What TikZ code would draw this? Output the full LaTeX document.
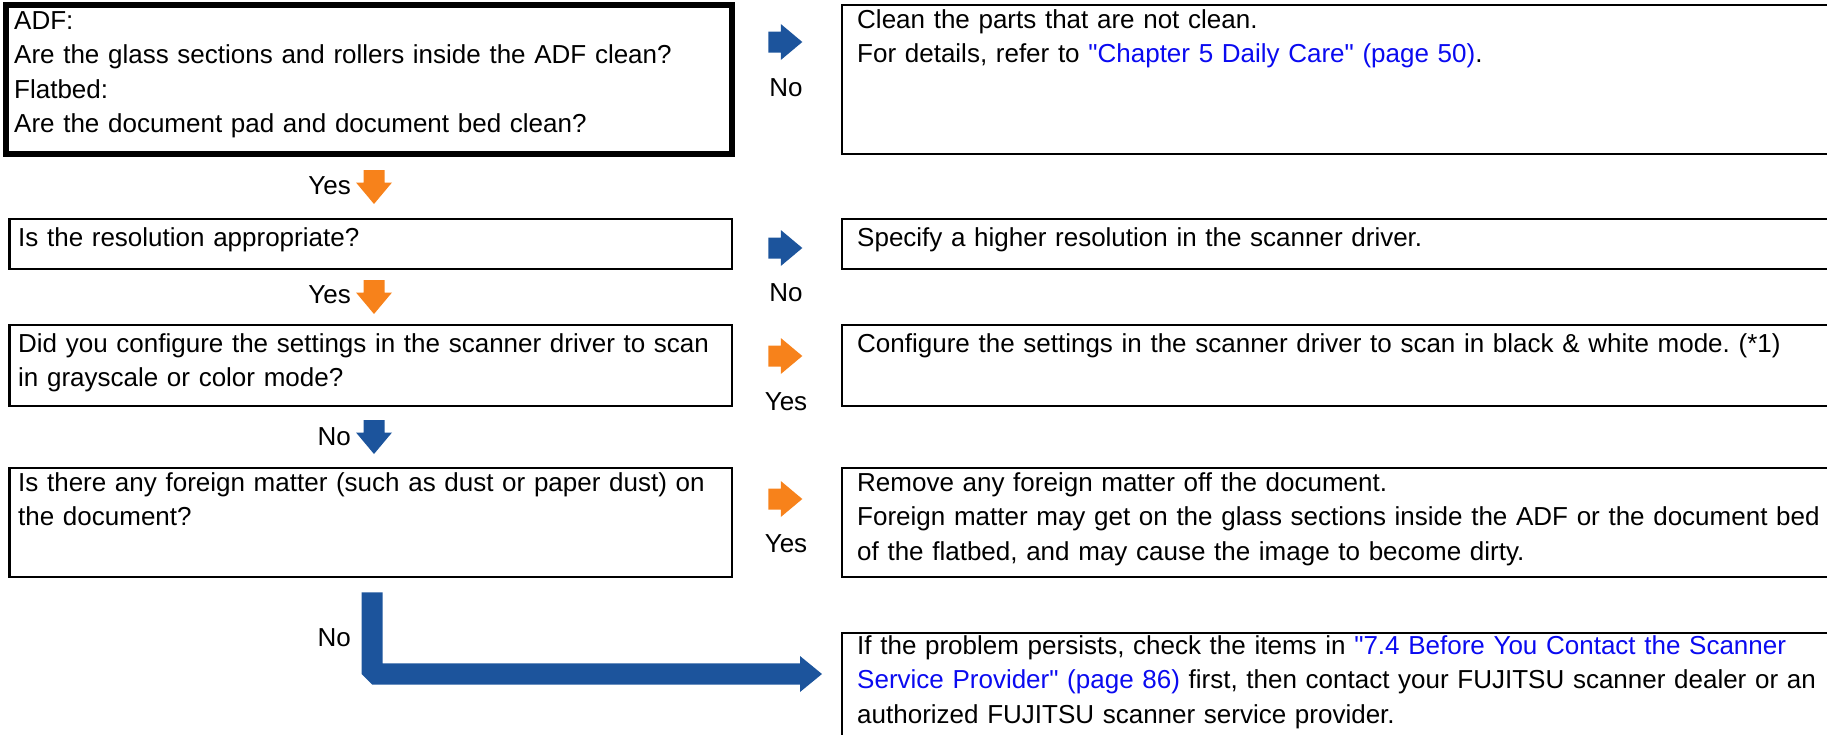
\documentclass[tikz,border=0pt]{standalone}
\usepackage{fontspec}
\setmainfont{Liberation Sans}
\usetikzlibrary{calc}
\definecolor{fjblue}{RGB}{28,84,156}
\definecolor{fjorange}{RGB}{247,130,27}
\definecolor{linkblue}{RGB}{10,10,240}
\newcommand{\lnk}[1]{\textcolor{linkblue}{#1}}
\newcommand{\qq}{\textquotedbl}
\newcommand{\rblock}[2]{\fill[#1, shift={(#2)}] (-17,-10.5) -- (-4.5,-10.5) -- (-4.5,-18) -- (17,0) -- (-4.5,18) -- (-4.5,10.5) -- (-17,10.5) -- cycle;}
\newcommand{\dblock}[2]{\fill[#1, shift={(#2)}] (-10.5,-17) -- (10.5,-17) -- (10.5,-4.5) -- (18,-4.5) -- (0,17) -- (-18,-4.5) -- (-10.5,-4.5) -- cycle;}
\frenchspacing
\begin{document}
\begin{tikzpicture}[x=1pt,y=-1pt,
  box/.style={draw=black, line width=2.5pt, rectangle, inner sep=0pt, outer sep=0pt, anchor=north west},
  thickbox/.style={box, line width=6pt},
  txt/.style={anchor=base west, inner sep=0pt, text width=#1, align=left, font=\fontsize{26}{34.5}\selectfont},
  txt/.default=980pt,
  lbl/.style={inner sep=0pt, font=\fontsize{26}{34.5}\selectfont},
]
\useasboundingbox (0,0) rectangle (1827,734);
\clip (0,0) rectangle (1827,734);

% question boxes
\node[thickbox, minimum width=726pt, minimum height=149pt] (q1) at (6,4.5) {};
\node[box, minimum width=722.5pt, minimum height=50pt] (q2) at (9.5,219) {};
\node[box, minimum width=722.5pt, minimum height=81pt] (q3) at (9.5,325) {};
\node[box, minimum width=722.5pt, minimum height=109pt] (q4) at (9.5,468) {};
% answer boxes
\node[box, minimum width=1000pt, minimum height=149pt] (a1) at (842,5) {};
\node[box, minimum width=1000pt, minimum height=50pt] (a2) at (842,219) {};
\node[box, minimum width=1000pt, minimum height=81pt] (a3) at (842,325) {};
\node[box, minimum width=1000pt, minimum height=109pt] (a4) at (842,468) {};
\node[box, minimum width=1000pt, minimum height=130pt] (a5) at (842,633) {};

% texts
\node[txt=715pt] (q1t) at (14,29) {ADF:\\Are the glass sections and rollers inside the ADF clean?\\Flatbed:\\Are the document pad and document bed clean?};
\node[txt=710pt] (q2t) at (18,246) {Is the resolution appropriate?};
\node[txt=710pt] (q3t) at (18,352) {Did you configure the settings in the scanner driver to scan\\in grayscale or color mode?};
\node[txt=710pt] (q4t) at (18,491) {Is there any foreign matter (such as dust or paper dust) on\\the document?};

\node[txt] (a1t) at (857,28) {Clean the parts that are not clean.\\For details, refer to \lnk{\qq Chapter 5 Daily Care\qq\ (page 50)}.};
\node[txt] (a2t) at (857,246) {Specify a higher resolution in the scanner driver.};
\node[txt] (a3t) at (857,352) {Configure the settings in the scanner driver to scan in black \& white mode. (*1)};
\node[txt] (a4t) at (857,491) {Remove any foreign matter off the document.\\Foreign matter may get on the glass sections inside the ADF or the document bed\\of the flatbed, and may cause the image to become dirty.};
\node[txt] (a5t) at (857,654) {If the problem persists, check the items in \lnk{\qq 7.4 Before You Contact the Scanner}\\\lnk{Service Provider\qq\ (page 86)} first, then contact your FUJITSU scanner dealer or an\\authorized FUJITSU scanner service provider.};

% block arrows (right)
\coordinate (r1) at (785.3,42);
\coordinate (r2) at (785.3,248);
\coordinate (r3) at (785.3,356);
\coordinate (r4) at (785.3,499);
\rblock{fjblue}{r1}
\rblock{fjblue}{r2}
\rblock{fjorange}{r3}
\rblock{fjorange}{r4}
\node[lbl, anchor=base] (r1l) at (786,96) {No};
\node[lbl, anchor=base] (r2l) at (786,301) {No};
\node[lbl, anchor=base] (r3l) at (786,410) {Yes};
\node[lbl, anchor=base] (r4l) at (786,552) {Yes};

% block arrows (down)
\coordinate (d1) at (374,187);
\coordinate (d2) at (374,297);
\coordinate (d3) at (374,437);
\dblock{fjorange}{d1}
\dblock{fjorange}{d2}
\dblock{fjblue}{d3}
\node[lbl, anchor=base east] (d1l) at (351,194) {Yes};
\node[lbl, anchor=base east] (d2l) at (351,303) {Yes};
\node[lbl, anchor=base east] (d3l) at (351,445) {No};

% L-shaped arrow to the last box
\coordinate (ltop) at (372.2,592.3);
\coordinate (ltip) at (822,674);
\fill[fjblue] (ltop) ++(-10.5,0) -- ++(21,0) -- (382.7,663.3) -- (800,663.3) -- (800,656) -- (ltip) -- (800,692) -- (800,684.7) -- (372.3,684.7) -- (361.7,674) -- cycle;
\node[lbl, anchor=base east] (l5) at (351,646) {No};
\end{tikzpicture}
\end{document}
